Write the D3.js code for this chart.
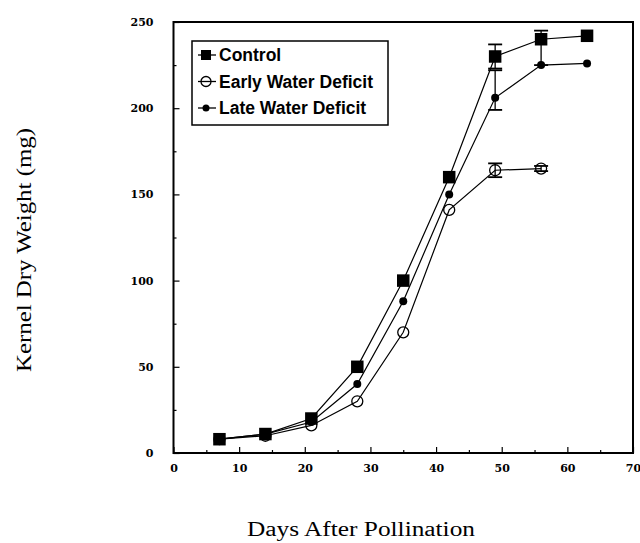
<!DOCTYPE html>
<html>
<head>
<meta charset="utf-8">
<script src="https://cdn.jsdelivr.net/npm/d3@7"></script>
<style>
  body { margin: 0; background: #fff; }
  svg { display: block; }
</style>
</head>
<body>
<svg></svg>
<script>
// days after pollination
let days = [7, 14, 21, 28, 35, 42, 49, 56, 63]

// kernel dry weight (mg)
let controlValues = [8, 11, 20, 50, 100, 160, 230, 240, 242]
let controlErrUp = [0, 0, 0, 0, 0, 0, 7, 5, 0]
let controlErrDown = [0, 0, 0, 0, 0, 0, 7, 15, 0]

let earlyValues = [8, 10, 16, 30, 70, 141, 164, 165]
let earlyErrUp = [0, 0, 0, 0, 0, 0, 4, 1.5]
let earlyErrDown = [0, 0, 0, 0, 0, 0, 4, 1.5]

let lateValues = [8, 11, 18, 40, 88, 150, 206, 225, 226]
let lateErrUp = [0, 0, 0, 0, 0, 0, 16, 0, 0]
let lateErrDown = [0, 0, 0, 0, 0, 0, 7, 0, 0]

let xTicks = [0, 10, 20, 30, 40, 50, 60, 70]
let xMinorTicks = [5, 15, 25, 35, 45, 55, 65]
let yTicks = [0, 50, 100, 150, 200, 250]
let yMinorTicks = [25, 75, 125, 175, 225]

let seriesNames = ['Control', 'Early Water Deficit', 'Late Water Deficit']

let width = 640
let height = 543
let plotLeft = 173.5
let plotRight = 633
let plotTop = 22
let plotBottom = 453

let svg = d3.select('svg').attr('width', width).attr('height', height)

let xScale = d3.scaleLinear().domain([0, 70]).range([plotLeft, plotRight])
let yScale = d3.scaleLinear().domain([0, 250]).range([plotBottom, plotTop])

let tickFont = 'DejaVu Serif'

// axes, ticks pointing inward
let xAxis = d3.axisBottom(xScale).tickValues(xTicks).tickSize(-6).tickPadding(11).tickFormat(d3.format('d'))
let yAxis = d3.axisLeft(yScale).tickValues(yTicks).tickSize(-6).tickPadding(20).tickFormat(d3.format('d'))

svg.append('g').attr('transform', 'translate(0,' + plotBottom + ')').call(xAxis)
svg.append('g').attr('transform', 'translate(' + plotLeft + ',0)').call(yAxis)

svg.append('g').attr('transform', 'translate(0,' + plotBottom + ')')
    .call(d3.axisBottom(xScale).tickValues(xMinorTicks).tickSize(-3).tickFormat(''))
svg.append('g').attr('transform', 'translate(' + plotLeft + ',0)')
    .call(d3.axisLeft(yScale).tickValues(yMinorTicks).tickSize(-3).tickFormat(''))

svg.selectAll('.domain').remove()
svg.selectAll('.tick line').attr('stroke', '#000').attr('stroke-width', 1.2)
svg.selectAll('.tick text')
    .attr('font-family', tickFont)
    .attr('font-weight', 'bold')
    .attr('font-size', '11px')
    .attr('fill', '#000')

// frame
svg.append('rect')
    .attr('x', plotLeft).attr('y', plotTop)
    .attr('width', plotRight - plotLeft).attr('height', plotBottom - plotTop)
    .attr('fill', 'none').attr('stroke', '#000').attr('stroke-width', 2)

// axis titles
svg.append('text')
    .attr('x', 247).attr('y', 536)
    .attr('font-family', 'Liberation Serif')
    .attr('font-size', '20px')
    .attr('textLength', 228)
    .attr('lengthAdjust', 'spacingAndGlyphs')
    .text('Days After Pollination')

svg.append('text')
    .attr('transform', 'translate(31,372) rotate(-90)')
    .attr('font-family', 'Liberation Serif')
    .attr('font-size', '22px')
    .attr('textLength', 244)
    .attr('lengthAdjust', 'spacingAndGlyphs')
    .text('Kernel Dry Weight (mg)')

let makeData = (values, up, down) => values.map((v, i) => ({
    day: days[i], value: v, up: up[i], down: down[i]
}))

let control = makeData(controlValues, controlErrUp, controlErrDown)
let early = makeData(earlyValues, earlyErrUp, earlyErrDown)
let late = makeData(lateValues, lateErrUp, lateErrDown)

let line = d3.line().x(d => xScale(d.day)).y(d => yScale(d.value))

let drawErrors = (data) => {
    let withErr = data.filter(d => d.up > 0 || d.down > 0)
    let g = svg.append('g').attr('stroke', '#000').attr('stroke-width', 1.3)
    withErr.forEach(d => {
        let x = xScale(d.day)
        let y1 = yScale(d.value + d.up)
        let y2 = yScale(d.value - d.down)
        g.append('line').attr('x1', x).attr('x2', x).attr('y1', y1).attr('y2', y2)
        if (d.up > 0) g.append('line').attr('x1', x - 7).attr('x2', x + 7).attr('y1', y1).attr('y2', y1).attr('stroke-width', 1.8)
        if (d.down > 0) g.append('line').attr('x1', x - 7).attr('x2', x + 7).attr('y1', y2).attr('y2', y2).attr('stroke-width', 1.8)
    })
}

drawErrors(control)
drawErrors(early)
drawErrors(late)

// lines
;[control, early, late].forEach(data => {
    svg.append('path')
        .datum(data)
        .attr('d', line)
        .attr('fill', 'none')
        .attr('stroke', '#000')
        .attr('stroke-width', 1.2)
})

// markers
let drawSquare = (g, x, y, s) => g.append('rect')
    .attr('x', x - s / 2).attr('y', y - s / 2).attr('width', s).attr('height', s).attr('fill', '#000')
let drawOpen = (g, x, y, r) => g.append('circle')
    .attr('cx', x).attr('cy', y).attr('r', r).attr('fill', 'none').attr('stroke', '#000').attr('stroke-width', 1.3)
let drawDot = (g, x, y, r) => g.append('circle')
    .attr('cx', x).attr('cy', y).attr('r', r).attr('fill', '#000')

let markers = svg.append('g')
early.forEach(d => drawOpen(markers, xScale(d.day), yScale(d.value), 5.5))
late.forEach(d => drawDot(markers, xScale(d.day), yScale(d.value), 4))
control.forEach(d => drawSquare(markers, xScale(d.day), yScale(d.value), 12.5))

// legend
let legend = svg.append('g')
legend.append('rect')
    .attr('x', 192).attr('y', 41).attr('width', 196).attr('height', 84)
    .attr('fill', '#fff').attr('stroke', '#000').attr('stroke-width', 1.5)

let legendDraw = [
    (g, x, y) => drawSquare(g, x, y, 10),
    (g, x, y) => drawOpen(g, x, y, 5),
    (g, x, y) => drawDot(g, x, y, 3.5)
]
seriesNames.forEach((name, i) => {
    let y = 55 + i * 26.5
    legend.append('line')
        .attr('x1', 198).attr('x2', 216).attr('y1', y).attr('y2', y)
        .attr('stroke', '#000').attr('stroke-width', 1.3)
    legendDraw[i](legend, 206, y)
    legend.append('text')
        .attr('x', 219).attr('y', y + 6)
        .attr('font-family', 'Liberation Sans')
        .attr('font-weight', 'bold')
        .attr('font-size', '17.5px')
        .text(name)
})
</script>
</body>
</html>
